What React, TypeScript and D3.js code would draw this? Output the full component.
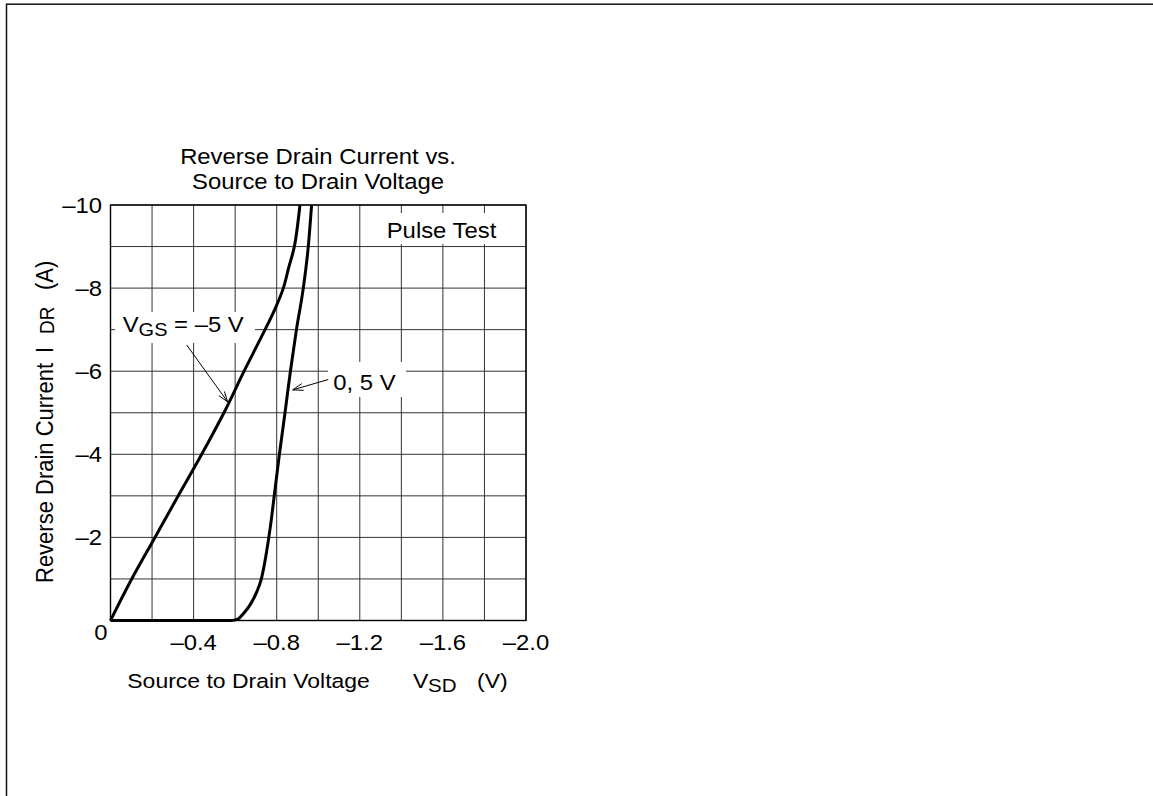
import React, { useRef, useEffect } from 'react';
import * as d3 from 'd3';

// curve readings: [V_SD (V), I_DR (A)]
const curveVgsMinus5: [number, number][] = [
  [0, 0], [-0.102, -1.0], [-0.214, -2.0], [-0.326, -3.0], [-0.439, -4.0],
  [-0.546, -5.0], [-0.643, -6.0], [-0.744, -7.0], [-0.792, -7.5], [-0.832, -8.0],
  [-0.858, -8.5], [-0.885, -9.0], [-0.912, -10.0],
];

const curveVgs0and5: [number, number][] = [
  [0, 0], [-0.3, 0], [-0.58, 0], [-0.615, -0.04], [-0.64, -0.17], [-0.671, -0.37],
  [-0.704, -0.69], [-0.726, -1.0], [-0.746, -1.5], [-0.762, -2.0], [-0.776, -2.5],
  [-0.788, -3.0], [-0.813, -4.0], [-0.84, -5.0], [-0.866, -6.0], [-0.895, -7.0],
  [-0.928, -8.0], [-0.952, -9.0], [-0.968, -10.0],
];

const xTickLabels = [-0.4, -0.8, -1.2, -1.6, -2.0];
const yTickLabels = [-2, -4, -6, -8, -10];

// annotation arrows: [tail, tip] in data units
const arrowVgsMinus5: [number, number][] = [[-0.367, -6.63], [-0.564, -5.26]];
const arrowVgs0and5: [number, number][] = [[-1.048, -5.8], [-0.877, -5.55]];

const FONT = '"Liberation Sans", Arial, Helvetica, sans-serif';
const SX = 1.11; // lettering in the original is drawn a little wide
const FS = 21.5;

const dash = '\u2013';

const App: React.FC = () => {
  const ref = useRef<SVGSVGElement | null>(null);

  useEffect(() => {
    if (!ref.current) return;
    const svg = d3.select(ref.current);
    svg.selectAll('*').remove();

    const left = 110.5, right = 526, top = 205, bottom = 620.5;

    const x = d3.scaleLinear().domain([0, -2]).range([left, right]);
    const y = d3.scaleLinear().domain([0, -10]).range([bottom, top]);

    // outer frame of the page
    svg.append('rect')
      .attr('x', 6.5).attr('y', 4.2)
      .attr('width', 1300).attr('height', 1000)
      .attr('fill', 'none').attr('stroke', '#111').attr('stroke-width', 1.5);

    const text = (px: number, py: number, size: number, anchor: string) =>
      svg.append('text')
        .attr('transform', `translate(${px},${py}) scale(${SX},1)`)
        .attr('text-anchor', anchor)
        .attr('font-family', FONT)
        .attr('font-size', size)
        .attr('fill', '#000');

    // title
    text(318, 164, FS, 'middle').text('Reverse Drain Current vs.');
    text(318, 188.5, FS, 'middle').text('Source to Drain Voltage');

    // grid
    const grid = svg.append('g').attr('stroke', '#333').attr('stroke-width', 1);
    x.ticks(10).forEach(v => {
      grid.append('line').attr('x1', x(v)).attr('x2', x(v)).attr('y1', top).attr('y2', bottom);
    });
    y.ticks(10).forEach(v => {
      grid.append('line').attr('x1', left).attr('x2', right).attr('y1', y(v)).attr('y2', y(v));
    });
    svg.append('rect')
      .attr('x', left).attr('y', top)
      .attr('width', right - left).attr('height', bottom - top)
      .attr('fill', 'none').attr('stroke', '#000').attr('stroke-width', 1.4);

    // tick labels
    yTickLabels.forEach(v => text(102, y(v) + 7.5, FS, 'end').text(dash + Math.abs(v)));
    xTickLabels.forEach(v => text(x(v), 650, FS, 'middle').text(dash + Math.abs(v).toFixed(1)));
    text(101, 640, FS, 'middle').text('0');

    // x axis title
    text(127.3, 688, 20.7, 'start').text('Source to Drain Voltage');
    text(413, 688, 20.7, 'start').text('V');
    text(428, 692, 18.5, 'start').text('SD');
    text(477, 688, 20.7, 'start').text('(V)');

    // y axis title
    const yl = svg.append('text')
      .attr('transform', `translate(53,583) scale(${SX},1) rotate(-90)`)
      .attr('font-family', FONT)
      .attr('font-size', 22)
      .attr('fill', '#000');
    yl.append('tspan').attr('x', 0).attr('y', 0).text('Reverse Drain Current');
    yl.append('tspan').attr('x', 230).attr('y', 0).text('I');
    yl.append('tspan').attr('x', 249).attr('y', 1).attr('font-size', 19).text('DR');
    yl.append('tspan').attr('x', 293).attr('y', 0).text('(A)');

    // curves
    const lineSteep = d3.line<[number, number]>()
      .x(d => x(d[0]))
      .y(d => y(d[1]))
      .curve(d3.curveCatmullRom.alpha(0.5));
    const lineKnee = d3.line<[number, number]>()
      .x(d => x(d[0]))
      .y(d => y(d[1]))
      .curve(d3.curveMonotoneX);

    svg.append('path')
      .datum(curveVgsMinus5)
      .attr('fill', 'none')
      .attr('stroke', '#000')
      .attr('stroke-width', 3)
      .attr('stroke-linejoin', 'round')
      .attr('d', lineSteep);
    svg.append('path')
      .datum(curveVgs0and5)
      .attr('fill', 'none')
      .attr('stroke', '#000')
      .attr('stroke-width', 3)
      .attr('stroke-linejoin', 'round')
      .attr('d', lineKnee);

    // labels with white backing
    const whiteBox = (x0: number, y0: number, x1: number, y1: number) =>
      svg.append('rect').attr('x', x0).attr('y', y0).attr('width', x1 - x0).attr('height', y1 - y0).attr('fill', '#fff');

    whiteBox(383, 213, 503, 244);
    text(386.7, 237.5, FS, 'start').text('Pulse Test');

    whiteBox(115, 312, 255, 343);
    const vgs = text(122.7, 332.3, FS, 'start');
    vgs.append('tspan').text('V');
    vgs.append('tspan').attr('dy', 4).attr('font-size', 18).text('GS');
    vgs.append('tspan').attr('dy', -4).text(' = ' + dash + '5 V');

    whiteBox(328, 362, 406, 397);
    text(333.3, 390, FS, 'start').text('0, 5 V');

    // arrows
    const arrow = (a: [number, number][]) => {
      const [x1, y1] = [x(a[0][0]), y(a[0][1])];
      const [x2, y2] = [x(a[1][0]), y(a[1][1])];
      const ang = Math.atan2(y2 - y1, x2 - x1);
      const len = 11, spread = 0.32;
      const g = svg.append('g').attr('stroke', '#000').attr('stroke-width', 1).attr('fill', 'none');
      g.append('line').attr('x1', x1).attr('y1', y1).attr('x2', x2).attr('y2', y2);
      g.append('path').attr('d',
        `M${x2 - len * Math.cos(ang - spread)},${y2 - len * Math.sin(ang - spread)}L${x2},${y2}L${x2 - len * Math.cos(ang + spread)},${y2 - len * Math.sin(ang + spread)}`);
    };
    arrow(arrowVgsMinus5);
    arrow(arrowVgs0and5);
  }, []);

  return (
    <svg
      ref={ref}
      width={1153}
      height={796}
      style={{ position: 'absolute', left: 0, top: 0, background: '#fff' }}
    />
  );
};

export default App;
